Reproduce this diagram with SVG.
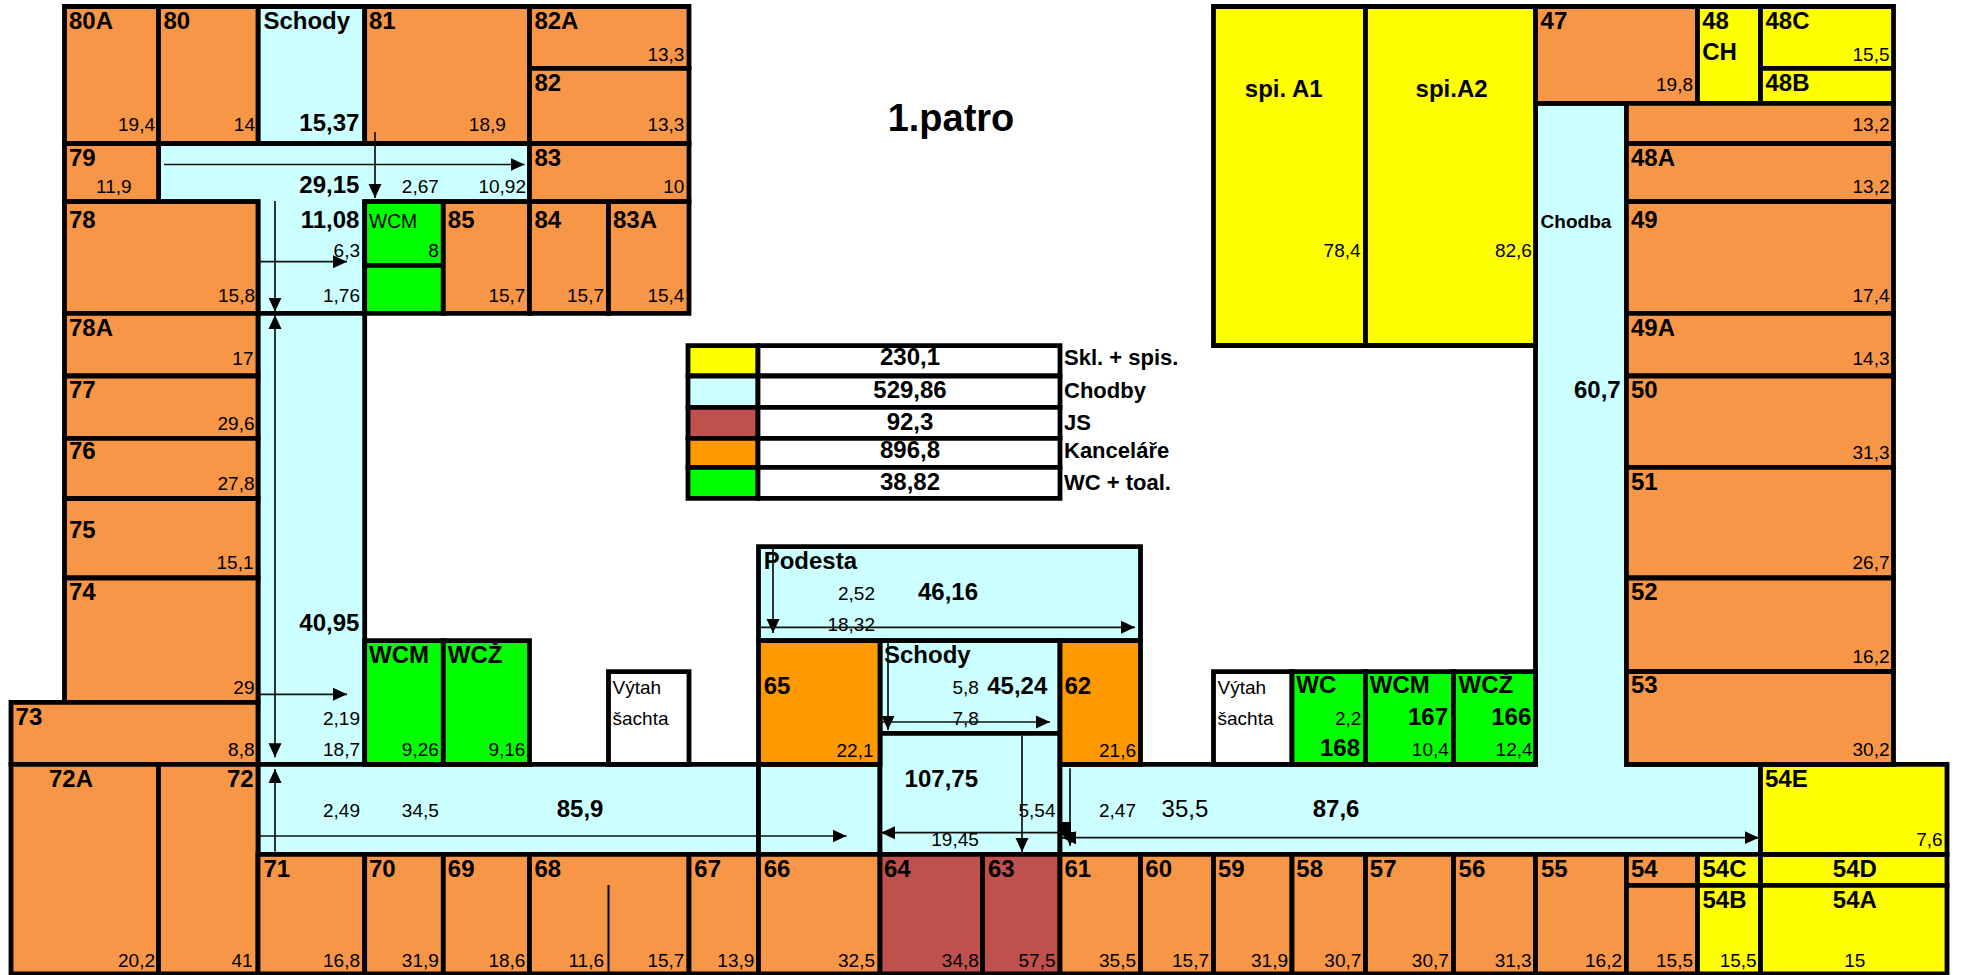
<svg xmlns="http://www.w3.org/2000/svg" width="1963" height="975" viewBox="0 0 1963 975">
<style>
text{font-family:"Liberation Sans",Arial,sans-serif;fill:#000}
path.o,path.c,path.y,path.j,path.k,path.g,path.w{stroke:#000;stroke-width:4.8;stroke-miterlimit:4}
.o{fill:#F79646}.c{fill:#CCFFFF}.y{fill:#FFFF00}.j{fill:#C0504D}.k{fill:#FF9900}.g{fill:#00FF00}.w{fill:#fff}
.b{font-weight:700;font-size:24px}
.n{font-size:19px}
.e{text-anchor:end}
.m{text-anchor:middle}
.t{font-weight:700;font-size:38px;text-anchor:middle}
.lv{font-weight:700;font-size:24px;text-anchor:middle}
.ll{font-weight:700;font-size:22px}
.a{stroke:#111;stroke-width:1.7;fill:none;marker-end:url(#h)}
.a2{stroke:#111;stroke-width:1.7;fill:none;marker-end:url(#h);marker-start:url(#h)}
</style>
<defs>
<marker id="h" markerUnits="userSpaceOnUse" markerWidth="14" markerHeight="14" refX="14" refY="7" orient="auto-start-reverse"><path d="M0,0.5L14,7L0,13.5z" fill="#000"/></marker>
</defs>
<rect width="1963" height="975" fill="#fff"/>
<g id="corridors">
<g id="c-north"><path class="c" d="M158.5 143.5H529.5V201.7H364.7V313.3H258V201.7H158.5Z"/><text class="b e" x="359.4" y="192.7">29,15</text><text class="b e" x="359.4" y="227.7">11,08</text><text class="n e" x="438.8" y="193">2,67</text><text class="n e" x="526" y="193">10,92</text><text class="n e" x="360" y="257">6,3</text><text class="n e" x="360" y="301.7">1,76</text></g>
<g id="c-schody-n"><path class="c" d="M258 6.5H364.7V143.5H258Z"/><text class="b" x="263.4" y="29.3">Schody</text><text class="b e" x="359.4" y="131">15,37</text></g>
<g id="c-west"><path class="c" d="M258 313.3H364.7V764.3H258Z"/><text class="b e" x="359.4" y="630.7">40,95</text><text class="n e" x="360" y="725.3">2,19</text><text class="n e" x="360" y="756">18,7</text></g>
<g id="c-sw"><path class="c" d="M258 764.3H758.5V854.3H258Z"/><text class="n e" x="360" y="817.3">2,49</text><text class="n e" x="438.8" y="817.3">34,5</text><text class="b" x="556.7" y="816.7">85,9</text></g>
<g id="c-mid"><path class="c" d="M758.5 764.3H880V854.3H758.5Z"/></g>
<g id="c-podesta"><path class="c" d="M758.5 546.7H1140.5V640.7H758.5Z"/><text class="b" x="763.7" y="569.3">Podesta</text><text class="n e" x="875" y="600">2,52</text><text class="b e" x="978" y="600">46,16</text><text class="n e" x="875" y="631">18,32</text></g>
<g id="c-schody-s"><path class="c" d="M880 640.7H1060V733.3H880Z"/><text class="b" x="884" y="662.7">Schody</text><text class="n e" x="978.8" y="694.3">5,8</text><text class="b e" x="1047.3" y="694.3">45,24</text><text class="n e" x="978.8" y="725">7,8</text></g>
<g id="c-107"><path class="c" d="M880 733.3H1060V854.3H880Z"/><text class="b e" x="978" y="786.7">107,75</text><text class="n e" x="1055.5" y="817.3">5,54</text><text class="n e" x="978.8" y="846">19,45</text></g>
<g id="c-east"><path class="c" d="M1060 764.3H1535.5V103.3H1626.4V764.3H1760.5V854.3H1060Z"/><text class="n e" x="1136" y="817.3">2,47</text><text x="1161.6" y="817.3" font-size="24">35,5</text><text class="b" x="1312.7" y="816.7">87,6</text><text x="1540.6" y="227.7" font-size="19" font-weight="700">Chodba</text><text class="b e" x="1620.7" y="397.7">60,7</text></g>
</g>
<g id="r80A"><path class="o" d="M64.5 6.5H158.5V143.5H64.5Z"/><text class="b" x="69" y="29.3">80A</text><text class="n e" x="155" y="131">19,4</text></g>
<g id="r80"><path class="o" d="M158.5 6.5H258V143.5H158.5Z"/><text class="b" x="163.4" y="29.3">80</text><text class="n e" x="255" y="131">14</text></g>
<g id="r81"><path class="o" d="M364.7 6.5H529.5V143.5H364.7Z"/><text class="b" x="369" y="29.3">81</text><text class="n e" x="505.8" y="131">18,9</text></g>
<g id="r82A"><path class="o" d="M529.5 6.5H689V68.3H529.5Z"/><text class="b" x="534.4" y="29.3">82A</text><text class="n e" x="684.4" y="60.7">13,3</text></g>
<g id="r82"><path class="o" d="M529.5 68.3H689V143.5H529.5Z"/><text class="b" x="534.4" y="90.7">82</text><text class="n e" x="684.4" y="131">13,3</text></g>
<g id="r79"><path class="o" d="M64.5 143.5H158.5V201.7H64.5Z"/><text class="b" x="69" y="165.7">79</text><text class="n e" x="131.7" y="193.3">11,9</text></g>
<g id="r83"><path class="o" d="M529.5 143.5H689V201.7H529.5Z"/><text class="b" x="534.4" y="165.7">83</text><text class="n e" x="684.4" y="193.3">10</text></g>
<g id="r78"><path class="o" d="M64.5 201.7H258V313.3H64.5Z"/><text class="b" x="69" y="227.7">78</text><text class="n e" x="255" y="301.7">15,8</text></g>
<g id="rWCM-n"><path class="g" d="M364.7 201.7H443.3V265.3H364.7Z"/><text x="369" y="227.7" font-size="19.3">WCM</text><text class="n e" x="438.8" y="257">8</text></g>
<g id="rWC-n2"><path class="g" d="M364.7 265.3H443.3V313.3H364.7Z"/></g>
<g id="r85"><path class="o" d="M443.3 201.7H529.5V313.3H443.3Z"/><text class="b" x="447.8" y="227.7">85</text><text class="n e" x="525.4" y="301.7">15,7</text></g>
<g id="r84"><path class="o" d="M529.5 201.7H608.5V313.3H529.5Z"/><text class="b" x="534.4" y="227.7">84</text><text class="n e" x="604" y="301.7">15,7</text></g>
<g id="r83A"><path class="o" d="M608.5 201.7H689V313.3H608.5Z"/><text class="b" x="613" y="227.7">83A</text><text class="n e" x="684.4" y="301.7">15,4</text></g>
<g id="r78A"><path class="o" d="M64.5 313.3H258V376H64.5Z"/><text class="b" x="69" y="336">78A</text><text class="n e" x="253.5" y="365">17</text></g>
<g id="r77"><path class="o" d="M64.5 376H258V438.3H64.5Z"/><text class="b" x="69" y="397.5">77</text><text class="n e" x="254.5" y="430">29,6</text></g>
<g id="r76"><path class="o" d="M64.5 438.3H258V498.5H64.5Z"/><text class="b" x="69" y="459">76</text><text class="n e" x="254.5" y="490">27,8</text></g>
<g id="r75"><path class="o" d="M64.5 498.5H258V578H64.5Z"/><text class="b" x="69" y="537.7">75</text><text class="n e" x="253.5" y="569.3">15,1</text></g>
<g id="r74"><path class="o" d="M64.5 578H258V702.3H64.5Z"/><text class="b" x="69" y="600">74</text><text class="n e" x="254.5" y="694">29</text></g>
<g id="r73"><path class="o" d="M11 702.3H258V764.3H11Z"/><text class="b" x="15.6" y="725">73</text><text class="n e" x="254.5" y="756">8,8</text></g>
<g id="r72A"><path class="o" d="M11 764.3H158.5V974H11Z"/><text class="b" x="49" y="786.7">72A</text><text class="n e" x="155" y="967.3">20,2</text></g>
<g id="r72"><path class="o" d="M158.5 764.3H258V974H158.5Z"/><text class="b e" x="253.6" y="786.7">72</text><text class="n e" x="252.7" y="967.3">41</text></g>
<g id="rWCM-w"><path class="g" d="M364.7 640.7H443.3V764.3H364.7Z"/><text class="b" x="369" y="662.7">WCM</text><text class="n e" x="438.8" y="756">9,26</text></g>
<g id="rWCZ-w"><path class="g" d="M443.3 640.7H529.5V764.3H443.3Z"/><text class="b" x="447.8" y="662.7">WCŽ</text><text class="n e" x="525.4" y="756">9,16</text></g>
<g id="vytah-w"><path class="w" d="M608.5 671.7H689V764.3H608.5Z"/><text class="n" x="612.5" y="694">Výtah</text><text class="n" x="612.5" y="725">šachta</text></g>
<g id="r71"><path class="o" d="M258 854.3H364.7V974H258Z"/><text class="b" x="263.4" y="876.7">71</text><text class="n e" x="360" y="967.3">16,8</text></g>
<g id="r70"><path class="o" d="M364.7 854.3H443.3V974H364.7Z"/><text class="b" x="369" y="876.7">70</text><text class="n e" x="438.8" y="967.3">31,9</text></g>
<g id="r69"><path class="o" d="M443.3 854.3H529.5V974H443.3Z"/><text class="b" x="447.8" y="876.7">69</text><text class="n e" x="525.4" y="967.3">18,6</text></g>
<g id="r68"><path class="o" d="M529.5 854.3H689V974H529.5Z"/><path d="M608.5 885V974" stroke="#000" stroke-width="2"/><text class="b" x="534.4" y="876.7">68</text><text class="n e" x="604" y="967.3">11,6</text><text class="n e" x="684.4" y="967.3">15,7</text></g>
<g id="r67"><path class="o" d="M689 854.3H758.5V974H689Z"/><text class="b" x="694.3" y="876.7">67</text><text class="n e" x="754.3" y="967.3">13,9</text></g>
<g id="r66"><path class="o" d="M758.5 854.3H880V974H758.5Z"/><text class="b" x="763.7" y="876.7">66</text><text class="n e" x="875" y="967.3">32,5</text></g>
<g id="r64"><path class="j" d="M880 854.3H982.5V974H880Z"/><text class="b" x="884" y="876.7">64</text><text class="n e" x="978.8" y="967.3">34,8</text></g>
<g id="r63"><path class="j" d="M982.5 854.3H1060V974H982.5Z"/><text class="b" x="988" y="876.7">63</text><text class="n e" x="1055.5" y="967.3">57,5</text></g>
<g id="r61"><path class="o" d="M1060 854.3H1140.5V974H1060Z"/><text class="b" x="1064.5" y="876.7">61</text><text class="n e" x="1136" y="967.3">35,5</text></g>
<g id="r60"><path class="o" d="M1140.5 854.3H1213.5V974H1140.5Z"/><text class="b" x="1145.3" y="876.7">60</text><text class="n e" x="1209" y="967.3">15,7</text></g>
<g id="r59"><path class="o" d="M1213.5 854.3H1292V974H1213.5Z"/><text class="b" x="1218" y="876.7">59</text><text class="n e" x="1288" y="967.3">31,9</text></g>
<g id="r58"><path class="o" d="M1292 854.3H1365.5V974H1292Z"/><text class="b" x="1296.3" y="876.7">58</text><text class="n e" x="1361.3" y="967.3">30,7</text></g>
<g id="r57"><path class="o" d="M1365.5 854.3H1453.5V974H1365.5Z"/><text class="b" x="1369.8" y="876.7">57</text><text class="n e" x="1448.8" y="967.3">30,7</text></g>
<g id="r56"><path class="o" d="M1453.5 854.3H1535.5V974H1453.5Z"/><text class="b" x="1458.6" y="876.7">56</text><text class="n e" x="1531.7" y="967.3">31,3</text></g>
<g id="r55"><path class="o" d="M1535.5 854.3H1626.4V974H1535.5Z"/><text class="b" x="1541" y="876.7">55</text><text class="n e" x="1622" y="967.3">16,2</text></g>
<g id="r54"><path class="o" d="M1626.4 854.3H1697.5V885.3H1626.4Z"/><text class="b" x="1631" y="876.7">54</text></g>
<g id="r54-low"><path class="o" d="M1626.4 885.3H1697.5V974H1626.4Z"/><text class="n e" x="1693" y="967.3">15,5</text></g>
<g id="r54C"><path class="y" d="M1697.5 854.3H1760.5V885.3H1697.5Z"/><text class="b" x="1702.5" y="876.7">54C</text></g>
<g id="r54B"><path class="y" d="M1697.5 885.3H1760.5V974H1697.5Z"/><text class="b" x="1702.5" y="907.7">54B</text><text class="n e" x="1756.7" y="967.3">15,5</text></g>
<g id="r54D"><path class="y" d="M1760.5 854.3H1947V885.3H1760.5Z"/><text class="b m" x="1854.8" y="876.7">54D</text></g>
<g id="r54A"><path class="y" d="M1760.5 885.3H1947V974H1760.5Z"/><text class="b m" x="1854.8" y="907.7">54A</text><text class="n m" x="1854.8" y="967.3">15</text></g>
<g id="r54E"><path class="y" d="M1760.5 764.3H1947V854.3H1760.5Z"/><text class="b" x="1765" y="786.7">54E</text><text class="n e" x="1942.7" y="845.7">7,6</text></g>
<g id="r65"><path class="k" d="M758.5 640.7H880V764.3H758.5Z"/><text class="b" x="763.7" y="693.7">65</text><text class="n e" x="873.5" y="756.7">22,1</text></g>
<g id="r62"><path class="k" d="M1060 640.7H1140.5V764.3H1060Z"/><text class="b" x="1064.5" y="693.7">62</text><text class="n e" x="1136" y="756.7">21,6</text></g>
<g id="vytah-e"><path class="w" d="M1213.5 671.7H1292V764.3H1213.5Z"/><text class="n" x="1217.5" y="694.3">Výtah</text><text class="n" x="1217.5" y="725">šachta</text></g>
<g id="rWC-e"><path class="g" d="M1292 671.7H1365.5V764.3H1292Z"/><text class="b" x="1296.3" y="693.3">WC</text><text class="n e" x="1361.3" y="725">2,2</text><text class="b e" x="1360" y="755.7">168</text></g>
<g id="rWCM-e"><path class="g" d="M1365.5 671.7H1453.5V764.3H1365.5Z"/><text class="b" x="1369.8" y="693.3">WCM</text><text class="b e" x="1448" y="725">167</text><text class="n e" x="1448.8" y="755.7">10,4</text></g>
<g id="rWCZ-e"><path class="g" d="M1453.5 671.7H1535.5V764.3H1453.5Z"/><text class="b" x="1458.6" y="693.3">WCŽ</text><text class="b e" x="1531.3" y="725">166</text><text class="n e" x="1532.6" y="755.7">12,4</text></g>
<g id="spiA1"><path class="y" d="M1213.5 6.5H1365.5V345.5H1213.5Z"/><text class="b" x="1244.8" y="96.7">spi. A1</text><text class="n e" x="1360.6" y="257">78,4</text></g>
<g id="spiA2"><path class="y" d="M1365.5 6.5H1535.5V345.5H1365.5Z"/><text class="b" x="1415.6" y="96.7">spi.A2</text><text class="n e" x="1531.9" y="257">82,6</text></g>
<g id="r47"><path class="o" d="M1535.5 6.5H1697.5V103.3H1535.5Z"/><text class="b" x="1540.6" y="29.3">47</text><text class="n e" x="1693" y="91">19,8</text></g>
<g id="r48CH"><path class="y" d="M1697.5 6.5H1760.5V103.3H1697.5Z"/><text class="b" x="1702.2" y="29.3">48</text><text class="b" x="1702.2" y="60">CH</text></g>
<g id="r48C"><path class="y" d="M1760.5 6.5H1893.5V68.3H1760.5Z"/><text class="b" x="1765.5" y="29.3">48C</text><text class="n e" x="1889.5" y="60.7">15,5</text></g>
<g id="r48B"><path class="y" d="M1760.5 68.3H1893.5V103.3H1760.5Z"/><text class="b" x="1765.5" y="90.7">48B</text></g>
<g id="r48-row"><path class="o" d="M1626.4 103.3H1893.5V143.5H1626.4Z"/><text class="n e" x="1889.5" y="131">13,2</text></g>
<g id="r48A"><path class="o" d="M1626.4 143.5H1893.5V201.7H1626.4Z"/><text class="b" x="1631" y="165.7">48A</text><text class="n e" x="1889.5" y="193.3">13,2</text></g>
<g id="r49"><path class="o" d="M1626.4 201.7H1893.5V313.3H1626.4Z"/><text class="b" x="1631" y="227.7">49</text><text class="n e" x="1889.5" y="301.7">17,4</text></g>
<g id="r49A"><path class="o" d="M1626.4 313.3H1893.5V376H1626.4Z"/><text class="b" x="1631" y="336">49A</text><text class="n e" x="1889.5" y="365">14,3</text></g>
<g id="r50"><path class="o" d="M1626.4 376H1893.5V467.3H1626.4Z"/><text class="b" x="1631" y="397.7">50</text><text class="n e" x="1889.5" y="459">31,3</text></g>
<g id="r51"><path class="o" d="M1626.4 467.3H1893.5V578H1626.4Z"/><text class="b" x="1631" y="490">51</text><text class="n e" x="1889.5" y="569.3">26,7</text></g>
<g id="r52"><path class="o" d="M1626.4 578H1893.5V671.5H1626.4Z"/><text class="b" x="1631" y="600">52</text><text class="n e" x="1889.5" y="662.7">16,2</text></g>
<g id="r53"><path class="o" d="M1626.4 671.5H1893.5V764.3H1626.4Z"/><text class="b" x="1631" y="693.3">53</text><text class="n e" x="1889.5" y="755.7">30,2</text></g>
<g id="title"><text class="t" x="951" y="131">1.patro</text></g>
<g id="legend">
<path class="y" d="M688 345.7H758V376H688Z"/><path class="w" d="M758 345.7H1060V376H758Z"/><text class="lv" x="910" y="365">230,1</text><text class="ll" x="1064" y="365">Skl. + spis.</text>
<path class="c" d="M688 376H758V407.3H688Z"/><path class="w" d="M758 376H1060V407.3H758Z"/><text class="lv" x="910" y="397.7">529,86</text><text class="ll" x="1064" y="397.7">Chodby</text>
<path class="j" d="M688 407.3H758V438.3H688Z"/><path class="w" d="M758 407.3H1060V438.3H758Z"/><text class="lv" x="910" y="430">92,3</text><text class="ll" x="1064" y="430">JS</text>
<path class="k" d="M688 438.3H758V467.3H688Z"/><path class="w" d="M758 438.3H1060V467.3H758Z"/><text class="lv" x="910" y="458.3">896,8</text><text class="ll" x="1064" y="458.3">Kanceláře</text>
<path class="g" d="M688 467.3H758V498.3H688Z"/><path class="w" d="M758 467.3H1060V498.3H758Z"/><text class="lv" x="910" y="490">38,82</text><text class="ll" x="1064" y="490">WC + toal.</text>
</g>
<g id="connectors">
<path class="a" d="M164 164.5H524.5"/>
<path class="a" d="M375 132V198"/>
<path class="a" d="M275 201V311.7"/>
<path class="a" d="M258 261.7H347"/>
<path class="a2" d="M275 315V757.3"/>
<path class="a" d="M258 694.3H347"/>
<path class="a" d="M275 851.7V769"/>
<path class="a" d="M258 836H846.5"/>
<path class="a" d="M773 548V633"/>
<path class="a" d="M758.5 627.3H1135"/>
<path class="a" d="M888 643V730"/>
<path class="a" d="M880 722H1050"/>
<path class="a" d="M1022 735.7V852"/>
<path class="a" d="M1060 832.7H881"/>
<path class="a2" d="M1062 837.7H1758.8"/>
<path class="a" d="M1070 768.3V845.7"/>
<path d="M1062 822H1071V832L1066 838L1062 835Z" fill="#000"/>
</g>
</svg>
